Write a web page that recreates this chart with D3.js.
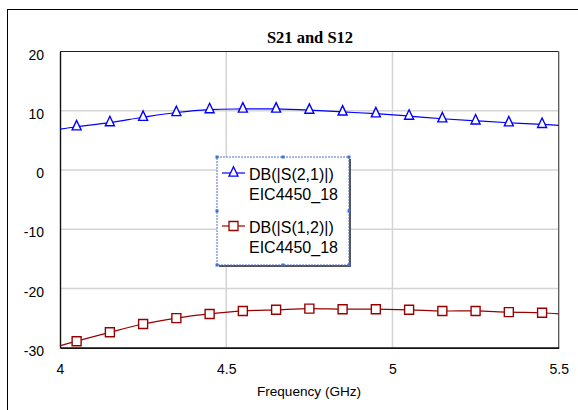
<!DOCTYPE html>
<html>
<head>
<meta charset="utf-8">
<script src="https://cdn.jsdelivr.net/npm/d3@7"></script>
<style>
  body { margin: 0; background: #fff; }
  svg { display: block; }
</style>
</head>
<body>
<svg id="chart" width="578" height="410"></svg>
<script>
// frequency points (GHz): ends of the trace plus the marker positions
var freq = [4.0, 4.05, 4.15, 4.25, 4.35, 4.45, 4.55, 4.65, 4.75, 4.85, 4.95, 5.05, 5.15, 5.25, 5.35, 5.45, 5.5]
var s21 = [6.9, 7.3, 8.0, 8.9, 9.7, 10.2, 10.3, 10.3, 10.1, 9.8, 9.5, 9.1, 8.65, 8.3, 7.97, 7.7, 7.53]
var s12 = [-29.7, -28.9, -27.4, -26.0, -25.0, -24.3, -23.8, -23.6, -23.4, -23.5, -23.5, -23.6, -23.8, -23.8, -24.0, -24.1, -24.3]

var xTicks = [4, 4.5, 5, 5.5]
var yTicks = [-30, -20, -10, 0, 10, 20]

var legendNames = ["DB(|S(2,1)|)", "DB(|S(1,2)|)"]
var legendSub = ["EIC4450_18", "EIC4450_18"]
var colors = ["#0000ff", "#990000"]

var svg = d3.select("#chart")
var plotLeft = 60, plotRight = 558.7, plotTop = 51.5, plotBottom = 347.7

var x = d3.scaleLinear().domain([4, 5.5]).range([plotLeft, plotRight])
var y = d3.scaleLinear().domain([-30, 20]).range([plotBottom, plotTop])

// outer frame (only left and top show in the window)
svg.append("rect")
    .attr("x", 7.5).attr("y", 9.5)
    .attr("width", 600).attr("height", 420)
    .attr("fill", "none").attr("stroke", "#000").attr("stroke-width", 1)

// title
svg.append("text")
    .attr("x", 310).attr("y", 43)
    .attr("text-anchor", "middle")
    .style("font-family", "'Liberation Serif', 'Times New Roman', serif")
    .style("font-weight", "bold")
    .style("font-size", "16.5px")
    .text("S21 and S12")

// grid
svg.append("g").selectAll("line")
    .data(xTicks.slice(1, -1))
    .join("line")
    .attr("x1", d => x(d)).attr("x2", d => x(d))
    .attr("y1", plotTop).attr("y2", plotBottom)
    .attr("stroke", "#d4d4d4").attr("stroke-width", 1.5)

svg.append("g").selectAll("line")
    .data(yTicks.slice(1, -1))
    .join("line")
    .attr("x1", plotLeft).attr("x2", plotRight)
    .attr("y1", d => y(d)).attr("y2", d => y(d))
    .attr("stroke", "#d4d4d4").attr("stroke-width", 1.5)

// plot box
svg.append("line").attr("x1", plotLeft).attr("x2", plotRight).attr("y1", plotTop).attr("y2", plotTop)
    .attr("stroke", "#222").attr("stroke-width", 1)
svg.append("line").attr("x1", plotRight).attr("x2", plotRight).attr("y1", plotTop).attr("y2", plotBottom)
    .attr("stroke", "#555").attr("stroke-width", 1.3)

// axes (plain hyphen for negatives, like the original)
var plain = function(d) { return String(d) }
var xAxis = d3.axisBottom(x).tickValues(xTicks).tickSize(0).tickPadding(14).tickFormat(plain)
var yAxis = d3.axisLeft(y).tickValues(yTicks).tickSize(0).tickPadding(16).tickFormat(plain)

var gx = svg.append("g").attr("transform", "translate(0," + plotBottom + ")").call(xAxis)
var gy = svg.append("g").attr("transform", "translate(" + plotLeft + ",0)").call(yAxis)

gx.select(".domain").attr("stroke", "#111").attr("stroke-width", 1.8)
gy.select(".domain").attr("stroke", "#111").attr("stroke-width", 1.4)
;[gx, gy].forEach(function(g) {
    g.selectAll("text")
        .style("font-family", "'Liberation Sans', Arial, sans-serif")
        .style("font-size", "14px")
        .attr("fill", "#000")
})
gy.selectAll("text").attr("dy", "0.55em")
gx.selectAll("text").attr("dy", "0.9em")

svg.append("text")
    .attr("x", 309).attr("y", 396)
    .attr("text-anchor", "middle")
    .style("font-family", "'Liberation Sans', Arial, sans-serif")
    .style("font-size", "13.6px")
    .text("Frequency (GHz)")

// traces
var series = [s21, s12]
var line = d3.line()
    .x(function(d) { return x(d[0]) })
    .y(function(d) { return y(d[1]) })
    .curve(d3.curveCatmullRom)

function triangle(s) {
    var h = s * 1.05
    return "M0," + (-h * 2 / 3) + "L" + (s / 2) + "," + (h / 3) + "L" + (-s / 2) + "," + (h / 3) + "Z"
}
function square(s) {
    return "M" + (-s / 2) + "," + (-s / 2) + "h" + s + "v" + s + "h" + (-s) + "Z"
}
var shapes = [triangle(9), square(9)]

series.forEach(function(vals, i) {
    var pts = freq.map(function(f, j) { return [f, vals[j]] })
    svg.append("path")
        .datum(pts)
        .attr("d", line)
        .attr("fill", "none")
        .attr("stroke", colors[i])
        .attr("stroke-width", 1.2)

    svg.append("g").selectAll("path")
        .data(pts.slice(1, -1))
        .join("path")
        .attr("transform", d => "translate(" + x(d[0]) + "," + y(d[1]) + ")")
        .attr("d", shapes[i])
        .attr("fill", "#fff")
        .attr("stroke", colors[i])
        .attr("stroke-width", 1.4)
})

// legend
var lx = 217, ly = 157, lw = 132, lh = 108
var legend = svg.append("g")
legend.append("rect")
    .attr("x", lx + 2).attr("y", ly + 2).attr("width", lw).attr("height", lh)
    .attr("fill", "#555")
legend.append("rect")
    .attr("x", lx).attr("y", ly).attr("width", lw).attr("height", lh)
    .attr("fill", "#fff").attr("stroke", "#4a72c8").attr("stroke-width", 1)
    .attr("stroke-dasharray", "2,1")

var handles = [[0, 0], [0.5, 0], [1, 0], [0, 0.5], [1, 0.5], [0, 1], [0.5, 1], [1, 1]]
legend.selectAll(".handle")
    .data(handles)
    .join("rect")
    .attr("class", "handle")
    .attr("x", d => lx + d[0] * lw - 1.5)
    .attr("y", d => ly + d[1] * lh - 1.5)
    .attr("width", 3).attr("height", 3)
    .attr("fill", "#3d6fd6")

var rowY = [173, 226]
legendNames.forEach(function(name, i) {
    var g = legend.append("g").attr("transform", "translate(0," + rowY[i] + ")")
    g.append("line")
        .attr("x1", 222).attr("x2", 245).attr("y1", 0).attr("y2", 0)
        .attr("stroke", colors[i]).attr("stroke-width", 1.2)
    g.append("path")
        .attr("transform", "translate(233.5,0)")
        .attr("d", shapes[i])
        .attr("fill", "#fff")
        .attr("stroke", colors[i])
        .attr("stroke-width", 1.3)
    g.append("text")
        .attr("x", 249).attr("y", 6.5)
        .style("font-family", "'Liberation Sans', Arial, sans-serif")
        .style("font-size", "16px")
        .text(name)
    g.append("text")
        .attr("x", 249).attr("y", 26.5)
        .style("font-family", "'Liberation Sans', Arial, sans-serif")
        .style("font-size", "16px")
        .text(legendSub[i])
})
</script>
</body>
</html>
